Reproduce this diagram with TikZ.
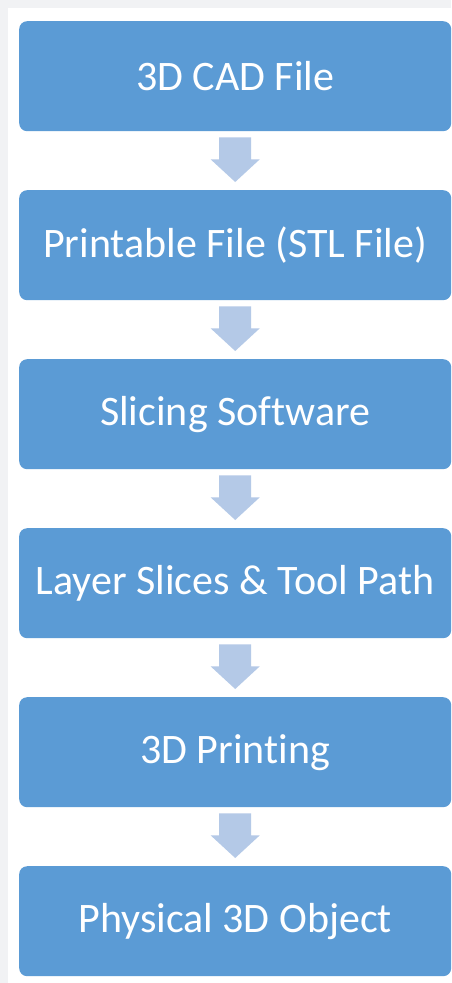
\documentclass[tikz,border=0pt]{standalone}
\usepackage{fontspec}
\setmainfont{Carlito}[Ligatures=NoCommon]
\usetikzlibrary{calc}
\definecolor{pagegray}{HTML}{F1F2F4}
\definecolor{boxblue}{HTML}{5B9BD5}
\definecolor{arrowblue}{HTML}{B4C9E7}
\tikzset{
  stepbox/.style={fill=boxblue, draw=none, rounded corners=8pt,
    minimum width=432pt, minimum height=110pt, inner sep=0pt,
    text=white, font=\fontsize{42}{50}\selectfont, anchor=north west},
  flowarrow/.style={fill=arrowblue, draw=none}
}
% block arrow from the bottom of box #1 to the top of box #2
\newcommand{\blockarrow}[2]{%
  \fill[flowarrow]
    ($(#1.south)+(-16pt,-6pt)$) -- ($(#1.south)+(16pt,-6pt)$)
    -- ($(#1.south)+(16pt,-28pt)$) -- ($(#1.south)+(24.5pt,-28pt)$)
    -- ($(#2.north)+(0pt,8pt)$)
    -- ($(#1.south)+(-24.5pt,-28pt)$) -- ($(#1.south)+(-16pt,-28pt)$) -- cycle;}
\begin{document}
\begin{tikzpicture}[x=1pt,y=-1pt]
  \useasboundingbox (0,0) rectangle (451,983);
  \fill[pagegray] (0,0) rectangle (451,983);
  \fill[white] (8,8) rectangle (451,983);
  \node[stepbox] (b1) at (19,21)  {3D CAD File};
  \node[stepbox] (b2) at (19,190) {Printable File (STL File)};
  \node[stepbox] (b3) at (19,359) {Slicing Software};
  \node[stepbox] (b4) at (19,528) {Layer Slices \& Tool Path};
  \node[stepbox] (b5) at (19,697) {3D Printing};
  \node[stepbox] (b6) at (19,866) {Physical 3D Object};
  \blockarrow{b1}{b2}
  \blockarrow{b2}{b3}
  \blockarrow{b3}{b4}
  \blockarrow{b4}{b5}
  \blockarrow{b5}{b6}
\end{tikzpicture}
\end{document}
